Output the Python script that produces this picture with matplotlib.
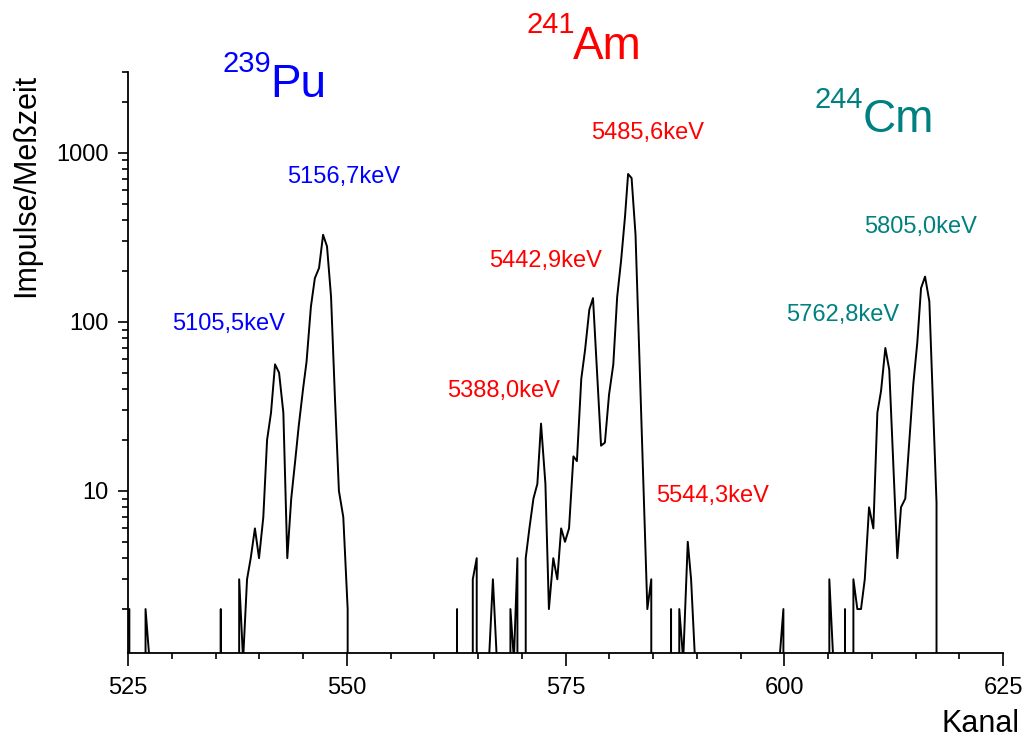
import matplotlib
matplotlib.use("Agg")
import matplotlib.pyplot as plt
from matplotlib.ticker import LogLocator, NullFormatter, MultipleLocator

plt.rcParams['font.family'] = ['Liberation Sans', 'DejaVu Sans']

# spectrum (channel, counts); 0 = empty channel
pu_kanal = [524.7, 525.15, 525.6, 526.55, 527.0, 527.45, 527.9, 535.15, 535.6, 536.05,
            537.25, 537.7, 538.15, 538.6, 539.02, 539.5, 539.97, 540.46, 540.89, 541.34,
            541.8, 542.26, 542.75, 543.2, 543.65, 544.1, 544.5, 545.0, 545.4, 545.9,
            546.35, 546.83, 547.29, 547.74, 548.2, 548.65, 549.1, 549.6, 550.1, 550.55]
pu_impulse = [1, 2, 0, 0, 2, 1, 0, 0, 2, 0,
              0, 3, 1, 3, 4, 6, 4, 7, 20, 29,
              56, 50, 29, 4, 9, 15, 24, 40, 58, 123,
              181, 208, 327, 279, 141, 35, 10, 7, 2, 0]

am_kanal = [562.15, 562.6, 563.05, 563.95, 564.4, 564.85, 565.3, 566.25, 566.7, 567.15,
            568.25, 568.7, 569.1, 569.5, 569.95, 570.45, 570.87, 571.33, 571.78, 572.2,
            572.7, 573.1, 573.6, 574.06, 574.5, 574.94, 575.4, 575.9, 576.3, 576.8,
            577.23, 577.72, 578.14, 579.06, 579.5, 579.97, 580.46, 580.9, 581.35, 581.8,
            582.15, 582.55, 583.0, 584.35, 584.8, 585.25,
            586.6, 587.06, 587.5, 588.0, 588.45, 588.97, 589.35, 589.8, 590.25,
            599.45, 599.9, 600.35]
am_impulse = [0, 2, 0, 0, 3, 4, 0, 1, 3, 1,
              0, 2, 1, 4, 0, 4, 6, 9, 11, 25,
              11, 2, 4, 3, 6, 5, 6, 16, 15, 46,
              68, 118, 138, 18.5, 19.3, 37, 56, 140, 230, 420,
              748, 708, 327, 2, 3, 0,
              0, 2, 0, 2, 1, 5, 3, 1, 0,
              1, 2, 0]

cm_kanal = [604.7, 605.15, 605.6, 606.05, 606.5, 606.94, 607.4, 607.9, 608.35, 608.77,
            609.2, 609.69, 610.18, 610.64, 611.06, 611.55, 612.0, 612.92, 613.34, 613.83,
            614.3, 614.75, 615.2, 615.63, 616.09, 616.58, 617.4, 617.85]
cm_impulse = [0, 3, 1, 0, 0, 2, 0, 3, 2, 2,
              3, 8, 6, 29, 39, 70, 52, 4, 8, 9,
              20, 43, 75, 158, 185, 132, 8.5, 0]

kanal = pu_kanal + am_kanal + cm_kanal
impulse = pu_impulse + am_impulse + cm_impulse

BLUE, RED, TEAL = '#0000ff', '#ff0000', '#008080'

fig = plt.figure(figsize=(10.26, 7.40), dpi=100)
ax = fig.add_axes([0.1248, 0.1176, 0.8528, 0.7851])

ax.plot(kanal, impulse, color='black', lw=1.4)
ax.set_yscale('log', nonpositive='clip')
ax.set_xlim(525, 625)
ax.set_ylim(1.1, 3000)

ax.spines['top'].set_visible(False)
ax.spines['right'].set_visible(False)
for s in ('left', 'bottom'):
    ax.spines[s].set_linewidth(1.3)

ax.set_xticks([525, 550, 575, 600, 625])
ax.xaxis.set_minor_locator(MultipleLocator(5))
ax.set_yticks([10, 100, 1000], labels=['10', '100', '1000'])
ax.yaxis.set_minor_locator(LogLocator(base=10, subs=range(2, 10)))
ax.yaxis.set_minor_formatter(NullFormatter())
ax.tick_params(axis='x', which='major', direction='out', length=9, width=1.2, labelsize=17, pad=8)
ax.tick_params(axis='x', which='minor', direction='out', length=4.5, width=1.2)
ax.tick_params(axis='y', which='major', direction='out', length=7, width=1.2, labelsize=17, pad=7)
ax.tick_params(axis='y', which='minor', direction='out', length=4, width=1.2)

ax.set_xlabel('Kanal', fontsize=22, ha='right', va='center')
ax.xaxis.set_label_coords(1.019, -0.122)
ax.set_ylabel('Impulse/Meßzeit', fontsize=22, va='center', ha='center')
ax.yaxis.set_label_coords(-0.1166, 0.805)

# isotope names
iso = [('239', 'Pu', BLUE, 0.1074, 1.0, 0.1623, 0.957),
       ('241', 'Am', RED, 0.4549, 1.067, 0.5086, 1.022),
       ('244', 'Cm', TEAL, 0.784, 0.938, 0.839, 0.897)]
for sup, name, col, sx, sy, nx, ny in iso:
    ax.text(sx, sy, sup, color=col, fontsize=21, transform=ax.transAxes,
            ha='left', va='baseline', clip_on=False)
    ax.text(nx, ny, name, color=col, fontsize=33, transform=ax.transAxes,
            ha='left', va='baseline', clip_on=False)

# line energies
energies = [('5156,7keV', BLUE, 0.1817, 0.809),
            ('5105,5keV', BLUE, 0.0503, 0.556),
            ('5485,6keV', RED, 0.529, 0.885),
            ('5442,9keV', RED, 0.4126, 0.664),
            ('5388,0keV', RED, 0.3646, 0.4406),
            ('5544,3keV', RED, 0.6034, 0.26),
            ('5805,0keV', TEAL, 0.8411, 0.7229),
            ('5762,8keV', TEAL, 0.752, 0.5714)]
for txt, col, fx, fy in energies:
    ax.text(fx, fy, txt, color=col, fontsize=17, transform=ax.transAxes,
            ha='left', va='baseline')

fig.savefig('out.png', dpi=100)
